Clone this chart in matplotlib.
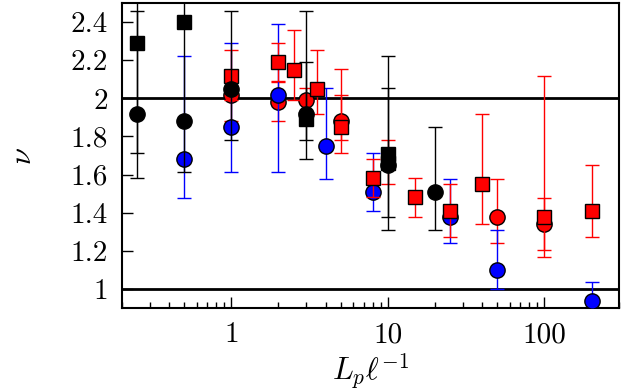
import numpy as np
import matplotlib
matplotlib.use('Agg')
import matplotlib.pyplot as plt
from matplotlib.ticker import FixedLocator, FixedFormatter, LogLocator, NullFormatter

plt.rcParams['font.family'] = 'serif'
plt.rcParams['font.serif'] = ['cmr10']
plt.rcParams['mathtext.fontset'] = 'cm'
plt.rcParams['axes.unicode_minus'] = False

# black squares
bs_x = [0.25, 0.5, 3, 10]
bs_y = [2.29, 2.40, 1.89, 1.71]
bs_lo = [1.715, 1.612, 1.681, 1.375]
bs_hi = [2.87, 3.19, 2.458, 2.054]

# black circles
bc_x = [0.25, 0.5, 1, 3, 10, 20]
bc_y = [1.92, 1.88, 2.05, 1.92, 1.65, 1.51]
bc_lo = [1.58, 1.88, 1.78, 1.78, 1.31, 1.31]
bc_hi = [2.46, 1.88, 2.46, 2.19, 2.22, 1.85]

# red squares
rs_x = [1, 2, 2.5, 3.5, 5, 8, 10, 15, 25, 40, 100, 200]
rs_y = [2.12, 2.19, 2.15, 2.05, 1.85, 1.58, 1.66, 1.48, 1.41, 1.55, 1.375, 1.41]
rs_lo = [1.99, 2.09, 1.99, 1.92, 1.78, 1.48, 1.55, 1.375, 1.27, 1.34, 1.17, 1.27]
rs_hi = [2.255, 2.29, 2.36, 2.255, 2.02, 1.68, 1.78, 1.58, 1.55, 1.92, 2.12, 1.65]

# red circles
rc_x = [1, 2, 3, 5, 50, 100]
rc_y = [2.02, 1.98, 1.99, 1.88, 1.375, 1.34]
rc_lo = [1.883, 1.883, 1.92, 1.715, 1.24, 1.204]
rc_hi = [2.15, 2.087, 2.052, 2.155, 1.577, 1.476]

# blue circles
bl_x = [0.5, 1, 2, 4, 8, 25, 50, 200]
bl_y = [1.68, 1.85, 2.02, 1.75, 1.51, 1.38, 1.10, 0.935]
bl_lo = [1.476, 1.612, 1.612, 1.579, 1.409, 1.239, 1.0, 0.83]
bl_hi = [2.223, 2.29, 2.392, 2.054, 1.715, 1.577, 1.308, 1.037]

ytick_vals = [1, 1.2, 1.4, 1.6, 1.8, 2, 2.2, 2.4]
ytick_labels = ['1', '1.2', '1.4', '1.6', '1.8', '2', '2.2', '2.4']
xtick_vals = [1, 10, 100]
xtick_labels = ['1', '10', '100']

fig = plt.figure(figsize=(6.33, 3.9), dpi=100)
ax = fig.add_axes([0.1927, 0.2103, 0.7853, 0.7817])

series = [
    (rc_x, rc_y, rc_lo, rc_hi, 'o', 'red', 3),
    (bl_x, bl_y, bl_lo, bl_hi, 'o', 'blue', 4),
    (rs_x, rs_y, rs_lo, rs_hi, 's', 'red', 5),
    (bs_x, bs_y, bs_lo, bs_hi, 's', 'black', 6),
    (bc_x, bc_y, bc_lo, bc_hi, 'o', 'black', 7),
]
for x, y, lo, hi, m, c, z in series:
    y = np.array(y)
    err = [y - np.array(lo), np.array(hi) - y]
    ax.errorbar(x, y, yerr=err, fmt=m, color=c, mfc=c, mec='black', mew=1.0,
                ms=11 if m == 'o' else 10.5, ecolor=c, elinewidth=1.0,
                capsize=5, capthick=1.0, zorder=z)

ax.axhline(2, color='black', lw=2, zorder=2)
ax.axhline(1, color='black', lw=2, zorder=2)

ax.set_xscale('log')
ax.set_xlim(0.2, 300)
ax.set_ylim(0.9, 2.5)

ax.xaxis.set_major_locator(FixedLocator(xtick_vals))
ax.xaxis.set_major_formatter(FixedFormatter(xtick_labels))
ax.xaxis.set_minor_locator(LogLocator(base=10, subs=np.arange(2, 10)))
ax.xaxis.set_minor_formatter(NullFormatter())
ax.yaxis.set_major_locator(FixedLocator(ytick_vals))
ax.yaxis.set_major_formatter(FixedFormatter(ytick_labels))

ax.tick_params(axis='both', which='major', direction='in', length=8, width=1,
               labelsize=21)
ax.tick_params(axis='y', which='major', pad=10)
ax.tick_params(axis='x', which='major', pad=10)
ax.tick_params(axis='x', which='minor', direction='in', length=4, width=1)
for s in ax.spines.values():
    s.set_linewidth(1.5)

ax.set_xlabel(r'$L_p\ell^{-1}$', fontsize=22, labelpad=2)
ax.set_ylabel(r'$\nu$', fontsize=22, labelpad=24)

fig.savefig('out.png', dpi=100)
